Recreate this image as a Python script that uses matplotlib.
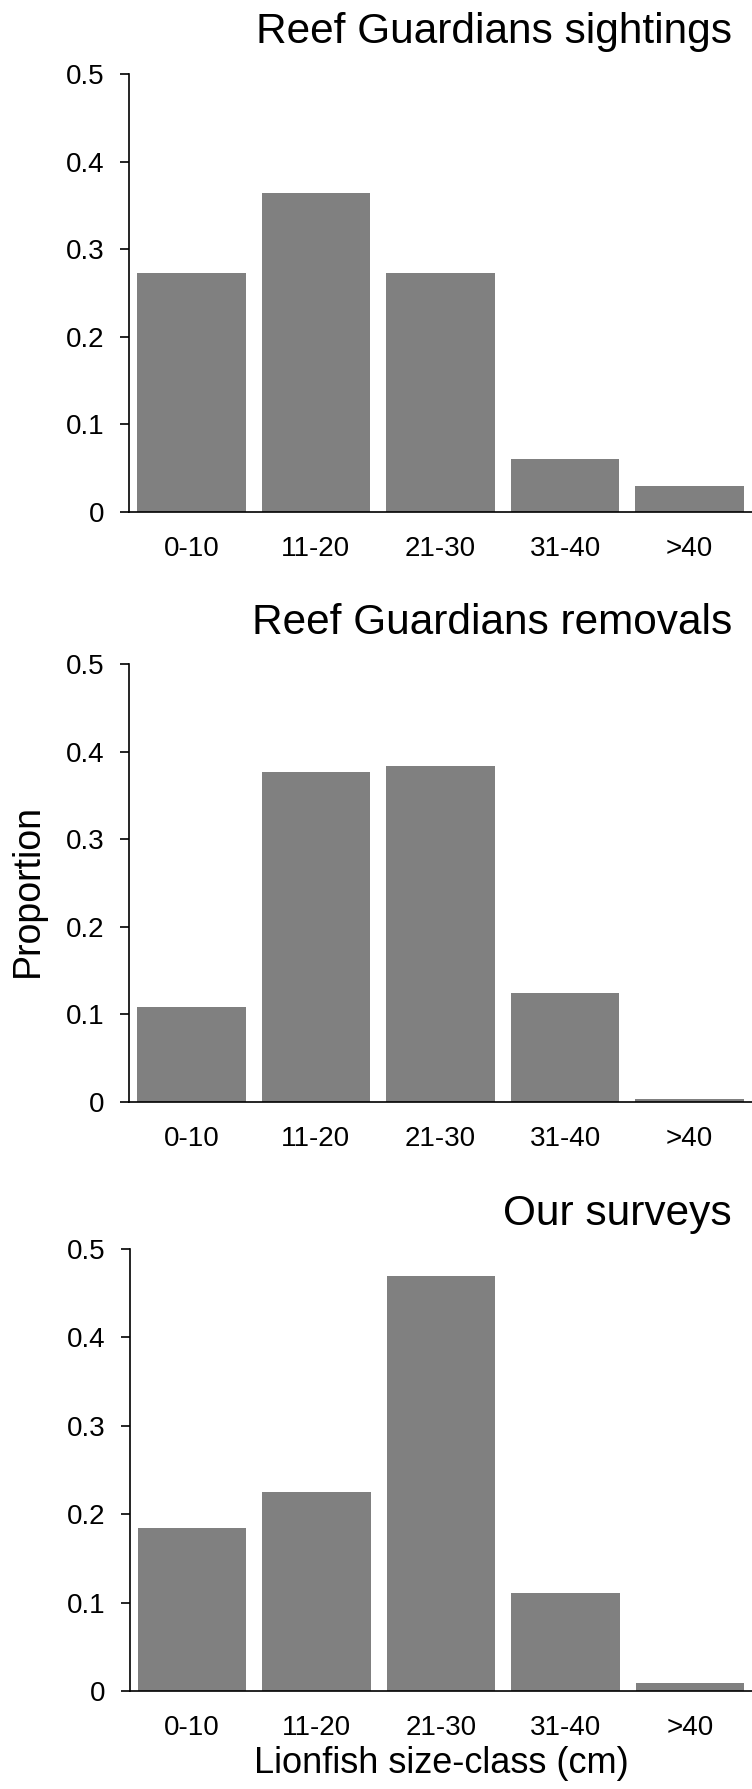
import matplotlib
matplotlib.use("Agg")
import matplotlib.pyplot as plt

plt.rcParams['font.family'] = ['Liberation Sans', 'Arial', 'DejaVu Sans']

categories = ["0-10", "11-20", "21-30", "31-40", ">40"]
sightings = [0.273, 0.364, 0.273, 0.061, 0.030]
removals = [0.108, 0.377, 0.383, 0.124, 0.003]
surveys = [0.184, 0.225, 0.469, 0.111, 0.009]
titles = ["Reef Guardians sightings", "Reef Guardians removals", "Our surveys"]
yticks = [0, 0.1, 0.2, 0.3, 0.4, 0.5]
ytick_labels = ["0", "0.1", "0.2", "0.3", "0.4", "0.5"]

W, H = 752, 1789
fig = plt.figure(figsize=(W / 100, H / 100), dpi=100)

# (left, top, bottom) in pixels, title baseline
layouts = [(129, 74, 512, 43), (129, 664, 1102, 634), (130, 1249, 1691, 1225)]
datasets = [sightings, removals, surveys]

for (left, top, bottom, tb), data, title in zip(layouts, datasets, titles):
    ax = fig.add_axes([left / W, (H - bottom) / H, (W - left) / W, (bottom - top) / H])
    ax.bar(range(len(categories)), data, width=0.87, color="#808080")
    ax.set_xlim(-0.5, 4.5)
    ax.set_ylim(0, 0.5)
    ax.set_yticks(yticks)
    ax.set_yticklabels(ytick_labels)
    ax.set_xticks(range(len(categories)))
    ax.set_xticklabels(categories)
    for s in ["top", "right"]:
        ax.spines[s].set_visible(False)
    for s in ["left", "bottom"]:
        ax.spines[s].set_linewidth(1.2)
        ax.spines[s].set_color("black")
    ax.tick_params(axis="y", length=6.5, width=1.2, pad=11, labelsize=20)
    ax.tick_params(axis="x", length=0, pad=17, labelsize=20)
    fig.text(732 / W, (H - tb) / H, title, ha="right", va="baseline", fontsize=30.5)

fig.text(28 / W, (H - 890) / H, "Proportion", rotation=90, ha="center", va="center", fontsize=27)
fig.text(441 / W, (H - 1773) / H, "Lionfish size-class (cm)", ha="center", va="baseline", fontsize=26)

fig.savefig("out.png", dpi=100)
